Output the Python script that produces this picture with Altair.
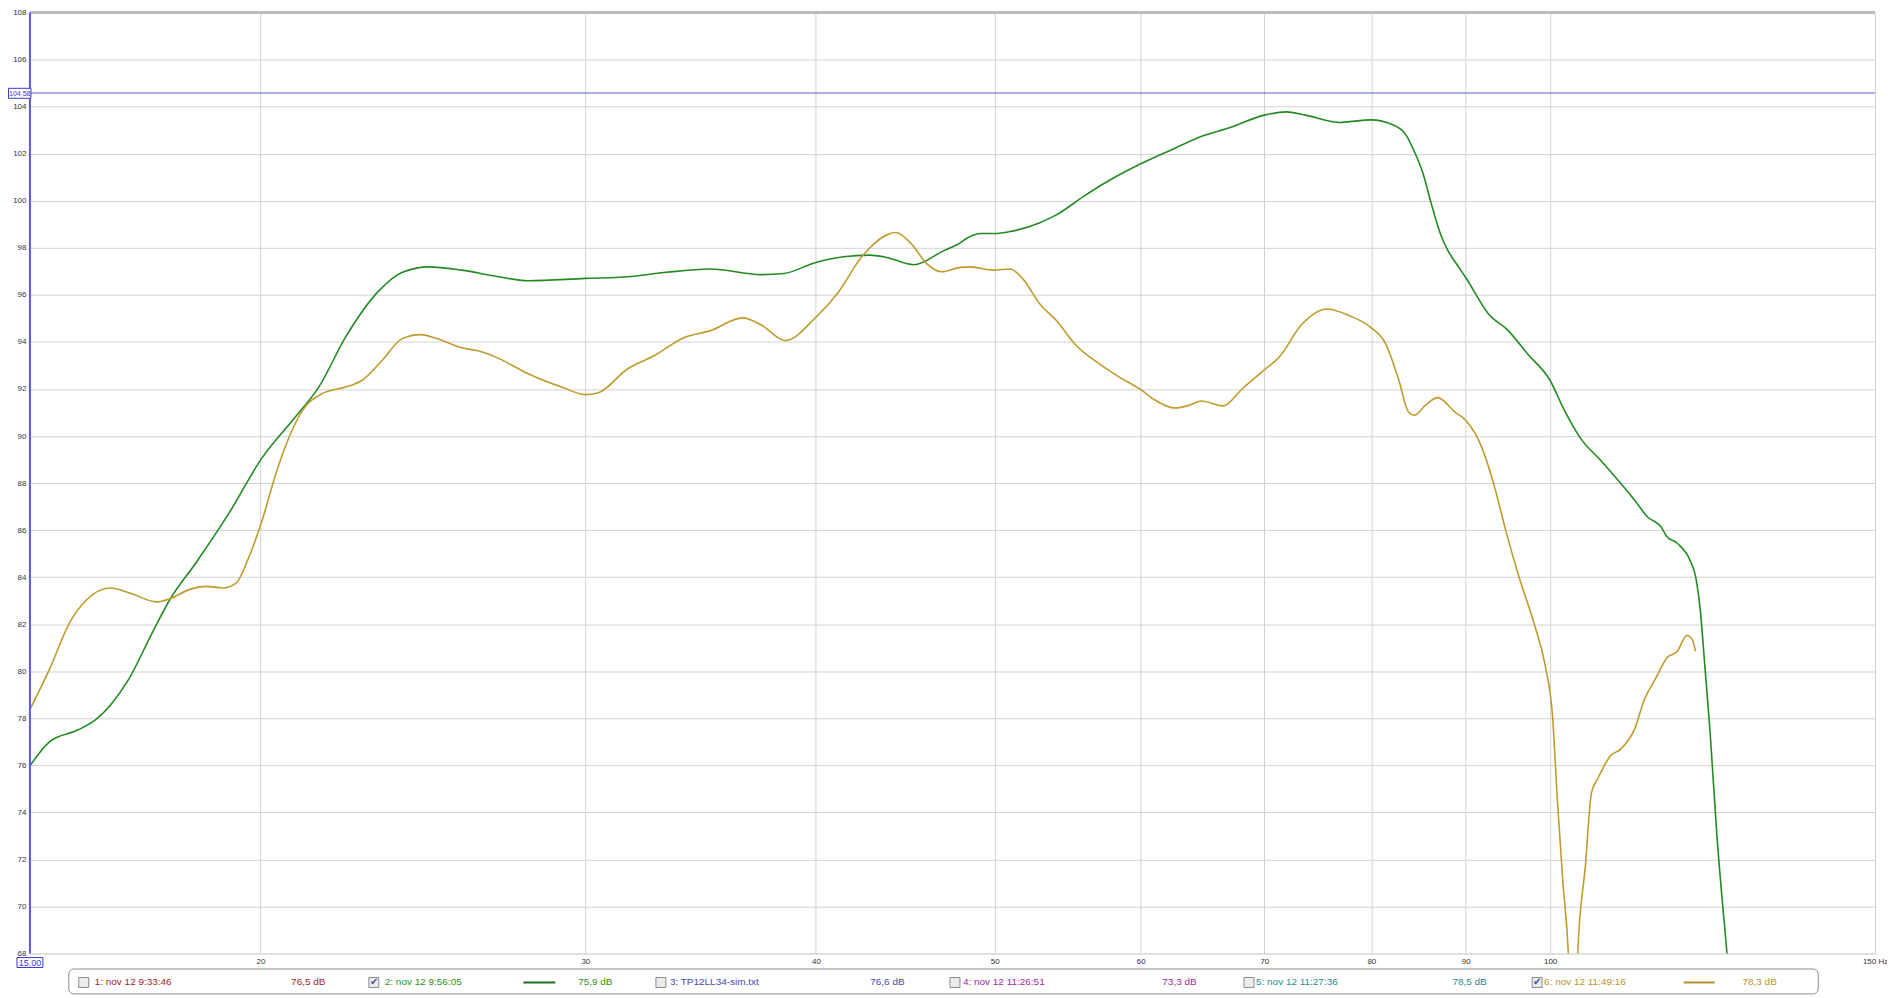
import altair as alt
import pandas as pd

# ---------------- data ----------------
green_freq = [15.0, 15.37, 15.92, 16.29, 16.6, 16.95, 17.49, 17.86, 18.45, 19.23, 20.03, 20.89,
              21.51, 22.24, 23.19, 23.86, 24.68, 25.71, 26.92, 27.93, 30.0, 31.63, 33.1, 35.07,
              37.33, 38.44, 40.0, 41.4, 42.78, 43.7, 45.2, 46.9, 47.7, 48.4, 49.1, 50.0, 50.96,
              52.9, 54.0, 55.9, 57.7, 60.0, 62.4, 64.8, 67.0, 70.0, 71.95, 73.7, 76.8, 80.0,
              82.1, 83.5, 84.4, 85.3, 86.2, 87.2, 88.0, 89.0, 90.0, 92.6, 94.9, 97.2, 100.0,
              101.8, 103.9, 106.5, 109.2, 111.1, 112.9, 114.8, 115.7, 117.2, 119.1, 119.9,
              120.6, 121.3, 122.1, 123.1, 124.7, 125.5]
green_db = [75.98, 77.0, 77.5, 77.95, 78.6, 79.6, 81.7, 83.04, 84.60, 86.72, 89.05, 90.81,
            92.08, 94.20, 96.18, 96.95, 97.19, 97.05, 96.77, 96.60, 96.70, 96.77, 96.95, 97.10,
            96.86, 96.91, 97.38, 97.62, 97.69, 97.59, 97.28, 97.87, 98.13, 98.45, 98.61, 98.61,
            98.69, 99.07, 99.40, 100.20, 100.87, 101.57, 102.18, 102.75, 103.10, 103.64, 103.78,
            103.64, 103.33, 103.44, 103.24, 102.82, 102.1, 101.2, 99.9, 98.6, 97.9, 97.3, 96.74,
            95.19, 94.48, 93.50, 92.36, 91.09, 89.89, 88.97, 87.99, 87.28, 86.57, 86.15, 85.72,
            85.44, 84.7, 84.03, 82.62, 80.22, 77.39, 73.16, 68.0, 65.5]

gold_freq = [15.0, 15.37, 15.76, 16.1, 16.58, 16.99, 17.57, 17.86, 18.3, 18.69, 19.08, 19.4,
             19.72, 20.07, 20.39, 20.73, 21.08, 21.6, 22.24, 22.7, 23.28, 23.86, 24.42, 24.87,
             25.71, 26.27, 26.92, 27.93, 29.13, 30.0, 30.47, 31.63, 32.7, 33.9, 35.07, 36.5,
             37.33, 38.5, 40.0, 41.07, 42.4, 44.2, 45.0, 45.96, 46.8, 47.9, 48.5, 49.9, 50.96,
             51.8, 52.9, 54.0, 55.35, 56.8, 58.2, 60.0, 61.1, 62.6, 63.75, 64.7, 66.5, 68.1,
             70.0, 71.3, 73.4, 75.7, 77.8, 80.0, 81.45, 82.8, 83.8, 84.4, 85.6, 86.9, 88.8,
             90.0, 91.8, 93.4, 94.6, 96.2, 98.0, 99.4, 100.3, 100.9, 101.6, 102.3, 102.9,
             103.5, 104.5, 105.3, 106.1, 107.8, 109.2, 111.1, 112.5, 114.0, 115.7, 117.2,
             118.6, 119.4, 119.9]
gold_db = [78.38, 80.08, 82.06, 83.04, 83.54, 83.33, 82.95, 83.08, 83.47, 83.61, 83.54, 83.75,
           84.88, 86.57, 88.41, 89.96, 91.09, 91.80, 92.08, 92.36, 93.21, 94.13, 94.31, 94.17,
           93.75, 93.61, 93.30, 92.65, 92.08, 91.76, 91.83, 92.86, 93.42, 94.17, 94.48, 95.02,
           94.74, 94.06, 95.05, 96.04, 97.66, 98.65, 98.22, 97.31, 96.98, 97.17, 97.19, 97.05,
           97.10, 96.67, 95.61, 94.91, 93.85, 93.14, 92.58, 91.97, 91.52, 91.19, 91.31, 91.49,
           91.28, 92.01, 92.81, 93.35, 94.77, 95.40, 95.12, 94.6, 93.92, 92.36, 91.02, 90.88,
           91.31, 91.63, 91.02, 90.67, 89.54, 87.70, 86.0, 84.0, 82.05, 80.22, 78.10, 74.57,
           71.04, 68.0, 62.0, 68.0, 71.74, 74.85, 75.42, 76.40, 76.69, 77.53, 78.81, 79.65,
           80.57, 80.85, 81.52, 81.35, 80.85]

y_ticks = list(range(68, 110, 2))
x_ticks = [20, 30, 40, 50, 60, 70, 80, 90, 100, 150]
x_domain = [15, 150]
y_domain = [68, 108]
cursor_freq = 15.0
cursor_db = 104.58
cursor_freq_label = "15,00"
cursor_db_label = "104,58"

legend_names = ["1: nov 12 9:33:46", "2: nov 12 9:56:05", "3: TP12LL34-sim.txt",
                "4: nov 12 11:26:51", "5: nov 12 11:27:36", "6: nov 12 11:49:16"]
legend_values = ["76,5 dB", "75,9 dB", "76,6 dB", "73,3 dB", "78,5 dB", "78,3 dB"]
legend_checked = [False, True, False, False, False, True]

# ---------------- styles ----------------
FONT = "Liberation Sans"
GREEN = "#238a23"
GOLD = "#c09a2c"
legend_colors = ["#a01e1e", "#2f8f24", "#4848a8", "#a028a0", "#2a8a8a", "#b8942a"]
sample_colors = [None, "#1e6e1e", None, None, None, "#b08c2a"]
CURSOR_BLUE = "#5a5ae0"
GRID = "#d2d2d2"

# ---------------- layout (pixels, relative to plot origin) ----------------
W, H = 1851, 944
LEG_TOP, LEG_BOT = 959.5, 984.5
LEG_Y = 973
leg_box_x = (39, 1794)
cb_x = [49, 340, 628, 923, 1218, 1507]
name_x = [65, 356, 642, 936, 1230, 1519]
val_x = [262, 550, 843, 1136, 1427, 1718]
sample_x = [None, (495, 527), None, None, None, (1659, 1690)]

# ---------------- chart ----------------
x_scale = alt.Scale(type="log", domain=x_domain, nice=False)
y_scale = alt.Scale(domain=y_domain, nice=False, zero=False)

x_axis = alt.Axis(values=x_ticks, grid=True, gridColor=GRID, gridWidth=1, ticks=False, domain=False,
                  labelFontSize=8, labelColor="#333333", labelPadding=4, labelFlush=False,
                  labelOverlap=False, title=None, labelFont=FONT,
                  labelExpr="datum.value == 150 ? '150 Hz' : datum.label")
y_axis = alt.Axis(values=y_ticks, grid=True, gridColor=GRID, gridWidth=1, ticks=False, domain=False,
                  labelFontSize=8, labelColor="#333333", labelPadding=4, labelFlush=False,
                  labelOverlap=False, title=None, labelFont=FONT, format="d")

df_green = pd.DataFrame({"f": green_freq, "db": green_db})
df_gold = pd.DataFrame({"f": gold_freq, "db": gold_db})

green_line = alt.Chart(df_green).mark_line(
    color=GREEN, strokeWidth=1.6, interpolate="monotone", clip=True
).encode(
    x=alt.X("f:Q", scale=x_scale, axis=x_axis),
    y=alt.Y("db:Q", scale=y_scale, axis=y_axis),
)

gold_line = alt.Chart(df_gold).mark_line(
    color=GOLD, strokeWidth=1.6, interpolate="monotone", clip=True
).encode(
    x=alt.X("f:Q", scale=x_scale),
    y=alt.Y("db:Q", scale=y_scale),
)

top_border = alt.Chart(pd.DataFrame({"db": [y_domain[1]]})).mark_rule(
    color="#bcbcbc", strokeWidth=3
).encode(y=alt.Y("db:Q", scale=y_scale))

h_cursor = alt.Chart(pd.DataFrame({"db": [cursor_db]})).mark_rule(
    color=CURSOR_BLUE, strokeWidth=1
).encode(y=alt.Y("db:Q", scale=y_scale))

v_cursor = alt.Chart(pd.DataFrame({"f": [cursor_freq]})).mark_rule(
    color=CURSOR_BLUE, strokeWidth=2
).encode(x=alt.X("f:Q", scale=x_scale))

# cursor value boxes
db_box = alt.Chart(pd.DataFrame({"t": [cursor_db_label]})).mark_rect(
    fill="white", stroke="#3a3ad0", strokeWidth=1
).encode(x=alt.value(-21.5), x2=alt.value(1), y=alt.value(76), y2=alt.value(86))
db_text = alt.Chart(pd.DataFrame({"t": [cursor_db_label]})).mark_text(
    align="center", baseline="middle", fontSize=7, color="#3a3ad0", font=FONT
).encode(x=alt.value(-10.2), y=alt.value(81.5), text="t:N")

f_box = alt.Chart(pd.DataFrame({"t": [cursor_freq_label]})).mark_rect(
    fill="white", stroke="#3a3ad0", strokeWidth=1
).encode(x=alt.value(-13), x2=alt.value(13), y=alt.value(948), y2=alt.value(958))
f_text = alt.Chart(pd.DataFrame({"t": [cursor_freq_label]})).mark_text(
    align="center", baseline="middle", fontSize=9, color="#3a3ad0", font=FONT
).encode(x=alt.value(0), y=alt.value(953.5), text="t:N")

# legend
leg_df = pd.DataFrame({
    "name": legend_names, "val": legend_values, "color": legend_colors,
    "checked": legend_checked, "cbx": cb_x, "cbx2": [c + 10 for c in cb_x],
    "nx": name_x, "vx": val_x,
    "cx": [c + 5 for c in cb_x],
})
samp_df = pd.DataFrame([
    {"x1": s[0], "x2": s[1], "color": sample_colors[i]}
    for i, s in enumerate(sample_x) if s is not None
])

leg_box = alt.Chart(pd.DataFrame({"a": [0]})).mark_rect(
    fill="white", stroke="#8c8c8c", strokeWidth=1, cornerRadius=5
).encode(x=alt.value(leg_box_x[0]), x2=alt.value(leg_box_x[1]),
         y=alt.value(LEG_TOP), y2=alt.value(LEG_BOT))

cb = alt.Chart(leg_df).mark_rect(
    fill="#ececec", stroke="#8a8a8a", strokeWidth=1
).encode(
    x=alt.X("cbx:Q", scale=None, axis=None), x2="cbx2:Q",
    y=alt.value(LEG_Y - 5), y2=alt.value(LEG_Y + 5),
)
checks = alt.Chart(leg_df).transform_filter("datum.checked").mark_text(
    text="✔", fontSize=10, color="#3a52a0", align="center", baseline="middle"
).encode(x=alt.X("cx:Q", scale=None, axis=None), y=alt.value(LEG_Y))

names = alt.Chart(leg_df).mark_text(
    align="left", baseline="middle", fontSize=10, font=FONT
).encode(
    x=alt.X("nx:Q", scale=None, axis=None), y=alt.value(LEG_Y),
    text="name:N", color=alt.Color("color:N", scale=None, legend=None),
)
vals = alt.Chart(leg_df).mark_text(
    align="left", baseline="middle", fontSize=10, font=FONT
).encode(
    x=alt.X("vx:Q", scale=None, axis=None), y=alt.value(LEG_Y),
    text="val:N", color=alt.Color("color:N", scale=None, legend=None),
)
samples = alt.Chart(samp_df).mark_rule(strokeWidth=2).encode(
    x=alt.X("x1:Q", scale=None, axis=None), x2="x2:Q", y=alt.value(LEG_Y),
    color=alt.Color("color:N", scale=None, legend=None),
)

chart = alt.layer(
    green_line, gold_line, top_border, h_cursor, v_cursor,
    db_box, db_text, f_box, f_text,
    leg_box, cb, checks, names, vals, samples,
).properties(
    width=W, height=H,
    autosize=alt.AutoSizeParams(type="none"),
    padding={"left": 22, "top": 3, "right": 12, "bottom": 42},
).configure_view(
    stroke="#b8b8b8", strokeWidth=2
).configure(font=FONT)

chart.save("out.html", embed_options={"renderer": "svg", "actions": False})
